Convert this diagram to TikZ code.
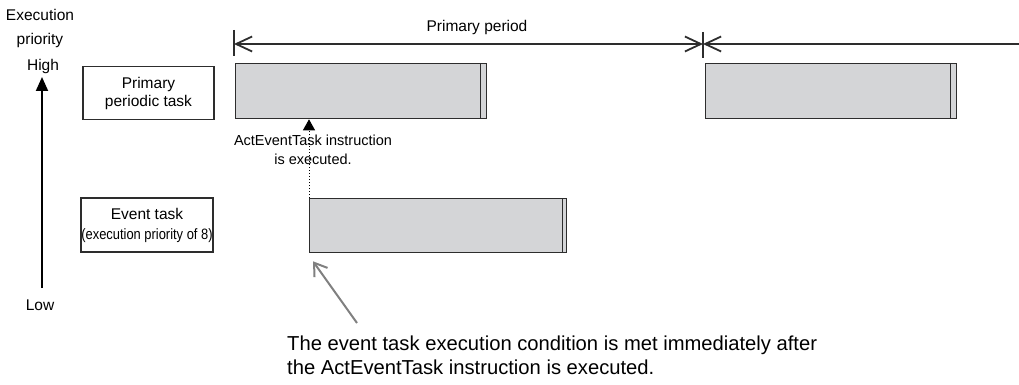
\documentclass[tikz,border=0pt]{standalone}
\usepackage{fontspec}
\setmainfont{Liberation Sans}
\newfontfamily\condfont[FakeStretch=0.86]{Liberation Sans}
\usetikzlibrary{arrows.meta, positioning, calc}
\definecolor{BarGray}{RGB}{212,213,215}
\definecolor{LineGray}{RGB}{45,45,45}
\definecolor{NoteGray}{RGB}{128,128,128}

\tikzset{
  taskbar/.style={draw=LineGray, fill=BarGray, line width=1.3pt, minimum height=55pt, anchor=north west, inner sep=0pt},
  tasklabel/.style={draw=LineGray, line width=1.1pt, minimum width=131pt, minimum height=53pt, align=center, inner sep=0pt, font=\fontsize{15.5}{18}\selectfont},
  plain/.style={font=\fontsize{15.5}{19}\selectfont, align=center, inner sep=0pt},
  dimline/.style={LineGray, line width=1.8pt},
  barb/.tip={Straight Barb[length=16pt, width=15pt]},
}

\begin{document}
\begin{tikzpicture}[x=1pt, y=-1pt]
    \useasboundingbox (0,0) rectangle (1019,385);

    % Priority axis
    \node [plain] (exec) at (40,15) {Execution};
    \node [plain] (prio) at (40,40) {priority};
    \node [plain] (high) at (43,66) {High};
    \node [plain] (low) at (40,305) {Low};
    \coordinate (axtop) at (42,77);
    \coordinate (axbot) at (42,288);
    \draw [-{Triangle[length=14pt, width=12pt]}, line width=2pt] (axbot) -- (axtop);

    % Task labels
    \node [tasklabel] (primlab) at (148.5,93) {Primary\\periodic task};
    \node [tasklabel, minimum width=132pt, minimum height=54pt, font=\fontsize{15.5}{20}\selectfont] (evlab) at (147,225)
        {Event task\\{\condfont\fontsize{15}{17}\selectfont (execution priority of 8)}};

    % Task bars
    \node [taskbar, minimum width=251pt] (bar1) at (235,63) {};
    \node [taskbar, minimum width=251pt] (bar2) at (705,63) {};
    \node [taskbar, minimum width=257pt, minimum height=54pt] (evbar) at (309,198) {};
    \draw [LineGray, line width=1.3pt] ([xshift=-7pt]bar1.north east) -- ([xshift=-7pt]bar1.south east);
    \draw [LineGray, line width=1.3pt] ([xshift=-7pt]bar2.north east) -- ([xshift=-7pt]bar2.south east);
    \draw [LineGray, line width=1.3pt] ([xshift=-5pt]evbar.north east) -- ([xshift=-5pt]evbar.south east);

    % Primary period
    \coordinate (tick1) at (234,44);
    \coordinate (tick2) at (703,44);
    \coordinate (lineend) at (1019,44);
    \draw [LineGray, line width=1.3pt] (234,30) -- (234,56);
    \draw [LineGray, line width=1.3pt] (703,32) -- (703,58);
    \draw [dimline, barb-barb] (tick1) -- (tick2);
    \draw [dimline, barb-] (tick2) -- (lineend);
    \node [plain] (period) at (477,27) {Primary period};

    % ActEventTask trigger
    \node [plain, font=\fontsize{14.5}{19}\selectfont] (actlab) at (313,149.5) {ActEventTask instruction\\is executed.};
    \draw [dotted, line width=1pt, -{Triangle[length=11pt, width=12pt]}] (evbar.north west) -- (evbar.north west |- bar1.south);

    % Note
    \node [anchor=base west, align=left, inner sep=0pt, font=\fontsize{20.2}{24}\selectfont] (note) at (287,374)
        {The event task execution condition is met immediately after\\the ActEventTask instruction is executed.};
    \coordinate (notestart) at (357,323);
    \coordinate (notetip) at ([shift={(4,8)}]evbar.south west);
    \draw [NoteGray, line width=2pt, -{Straight Barb[length=12pt, width=16pt]}] (notestart) -- (notetip);
\end{tikzpicture}
\end{document}
